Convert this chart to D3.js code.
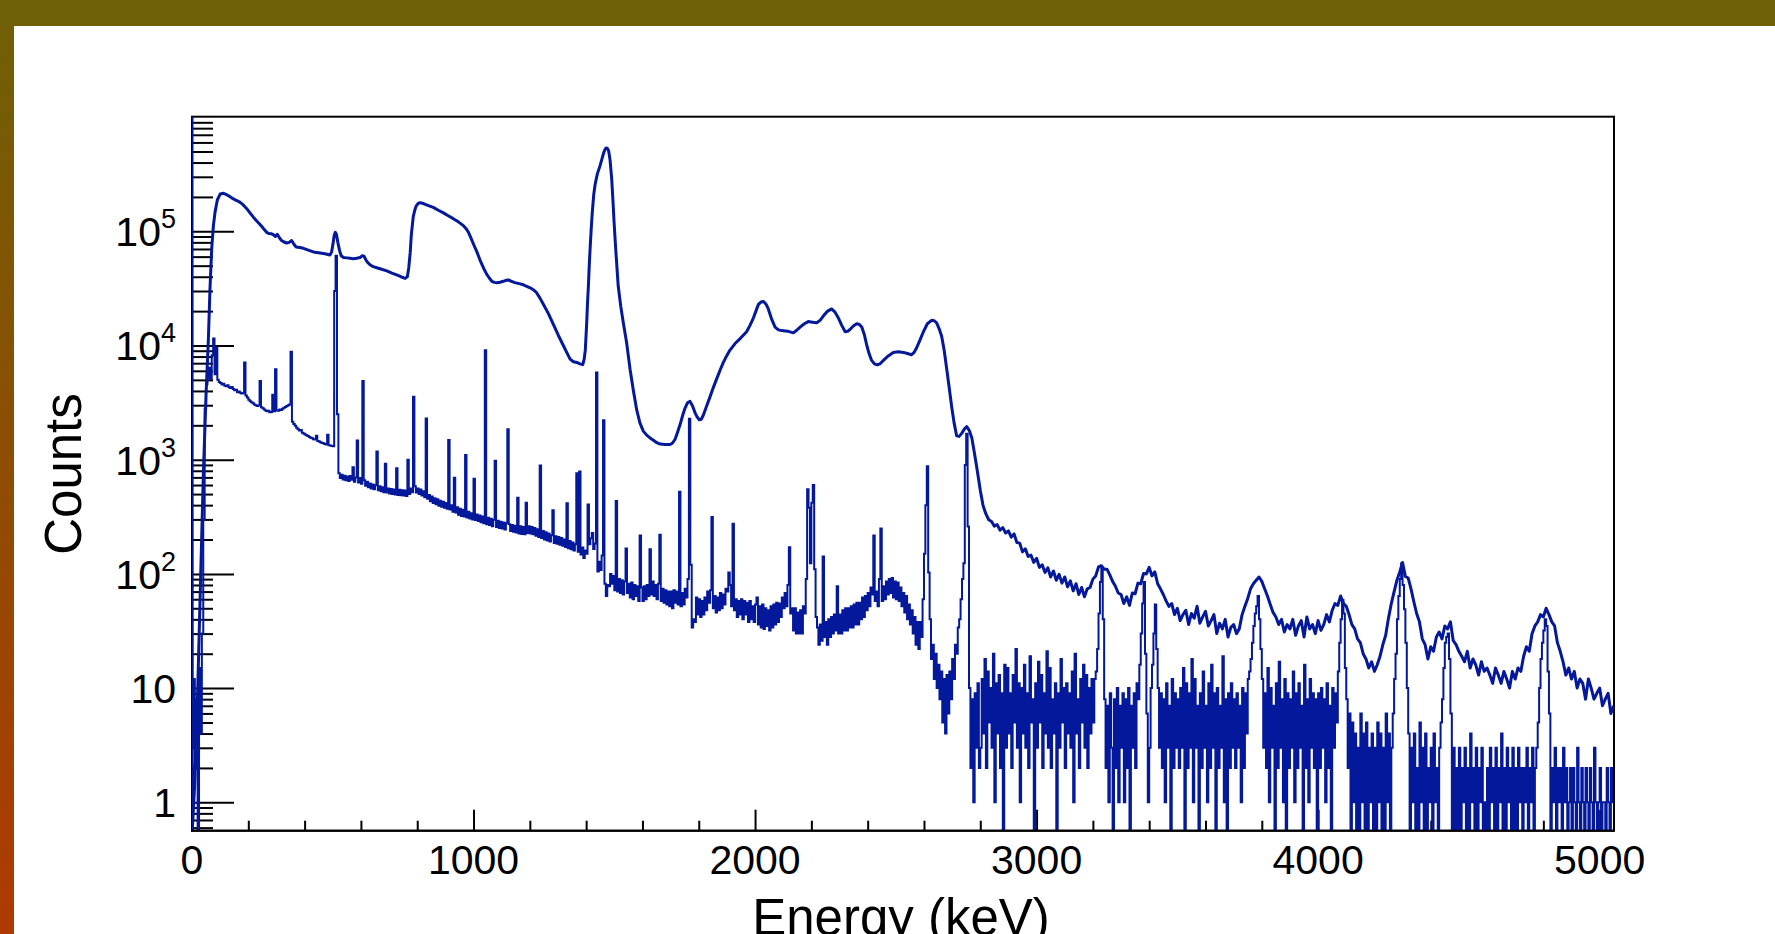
<!DOCTYPE html>
<meta charset="utf-8">
<style>
body {
  margin: 0;
  background: #fff;
}
svg text {
  font-family: "Liberation Sans", Arial, Helvetica, sans-serif;
  fill: #000;
}
</style>
<body>
<script src="https://d3js.org/d3.v7.min.js"></script>
<script>

// ---- data ----

// broad-peak detector spectrum, smooth part (keV, counts)
var upperEnergy = [0, 1, 10, 20, 30, 40, 50, 58, 64, 70, 76, 82, 90, 100, 112, 123, 135, 147, 159, 171, 180, 188, 197, 206, 218, 230, 240, 248, 256, 265, 274, 283, 290, 296, 303, 309, 316, 325, 336, 345, 354, 362, 370, 383, 396, 413, 431, 449, 467, 480, 490, 496, 501, 505, 509, 513, 518, 524, 530, 538, 550, 561, 573, 585, 597, 605, 611, 618, 625, 632, 644, 656, 674, 692, 710, 727, 742, 757, 765, 770, 775, 779, 783, 786, 791, 796, 802, 808, 815, 822, 840, 857, 875, 893, 910, 928, 946, 964, 973, 982, 991, 1000, 1012, 1023, 1035, 1047, 1056, 1065, 1074, 1082, 1094, 1106, 1115, 1124, 1135, 1147, 1162, 1177, 1189, 1201, 1212, 1224, 1236, 1248, 1266, 1284, 1301, 1319, 1331, 1343, 1355, 1367, 1378, 1388, 1393, 1397, 1402, 1405, 1408, 1411, 1414, 1418, 1422, 1427, 1432, 1440, 1449, 1455, 1461, 1466, 1471, 1476, 1480, 1485, 1491, 1495, 1499, 1505, 1514, 1523, 1532, 1544, 1556, 1568, 1580, 1591, 1603, 1615, 1627, 1639, 1651, 1663, 1680, 1698, 1707, 1716, 1725, 1734, 1743, 1751, 1760, 1769, 1778, 1787, 1795, 1802, 1809, 1816, 1828, 1840, 1852, 1864, 1876, 1887, 1899, 1911, 1929, 1947, 1958, 1970, 1982, 1994, 2003, 2012, 2021, 2030, 2039, 2047, 2059, 2071, 2083, 2095, 2107, 2118, 2136, 2148, 2160, 2175, 2189, 2204, 2219, 2231, 2243, 2258, 2272, 2284, 2296, 2308, 2320, 2329, 2337, 2349, 2361, 2370, 2379, 2388, 2397, 2405, 2414, 2424, 2434, 2445, 2456, 2473, 2491, 2509, 2527, 2541, 2556, 2565, 2574, 2586, 2598, 2612, 2627, 2636, 2645, 2654, 2663, 2672, 2681, 2690, 2698, 2707, 2716, 2725, 2734, 2743, 2752, 2761, 2770, 2779, 2787, 2795];
var upperCounts = [1200000, 0.4, 1.5, 9, 80, 700, 3800, 11000, 32000, 70000, 112000, 148000, 188000, 212000, 215000, 209000, 201000, 192000, 186000, 179000, 172000, 164000, 155000, 145000, 133000, 123000, 116000, 110000, 104000, 98000, 95500, 95000, 93000, 90000, 94000, 89000, 84000, 81000, 79000, 80000, 83000, 77000, 73000, 72000, 71000, 68500, 66000, 65000, 64000, 63000, 62000, 66000, 78000, 92000, 98000, 94000, 80000, 68000, 61000, 59000, 58500, 58000, 57500, 58000, 59000, 61000, 60500, 56000, 53000, 51000, 49000, 48000, 46500, 45000, 43000, 41500, 40000, 38700, 40000, 48000, 65000, 93000, 115000, 135000, 152000, 166000, 174000, 178000, 177000, 175000, 168000, 162000, 153000, 145000, 137000, 129000, 121000, 112000, 106000, 98000, 87000, 77000, 66000, 56000, 48000, 42000, 39000, 36500, 35700, 35500, 35800, 36500, 37200, 37500, 36500, 35500, 34800, 34000, 33000, 32000, 30800, 29000, 26000, 23000, 19000, 15200, 12300, 10000, 8700, 7600, 7200, 7100, 6900, 6800, 7600, 9100, 15800, 24000, 33000, 50000, 70000, 105000, 148000, 210000, 258000, 320000, 372000, 420000, 475000, 515000, 537000, 530000, 505000, 420000, 283000, 190000, 123000, 70000, 33000, 22000, 15800, 10500, 6200, 4000, 2700, 2100, 1780, 1640, 1550, 1480, 1410, 1370, 1360, 1360, 1400, 1510, 1750, 2040, 2450, 2820, 3150, 3240, 2950, 2570, 2350, 2240, 2260, 2450, 2950, 3550, 4300, 5130, 6100, 7080, 8100, 9120, 10400, 11500, 12300, 13200, 15000, 17400, 20000, 22900, 24000, 24300, 23000, 20900, 17000, 14500, 13700, 13500, 13400, 13300, 12900, 13600, 14500, 15500, 16200, 16000, 15800, 16600, 18200, 20000, 20900, 19600, 17400, 15000, 13200, 13300, 13800, 14800, 15500, 15300, 14500, 12500, 10000, 8500, 7400, 6900, 6760, 6950, 7400, 8100, 8700, 8800, 8700, 8500, 8300, 8700, 9550, 11200, 13200, 15500, 16600, 16500, 15800, 14000, 12000, 9000, 6170, 4200, 2950, 2100, 1620, 1600, 1700, 1850, 1950, 1800, 1550, 1150, 870, 650];

// same spectrum above 2800 keV, one value per 10 keV
var upperTailStart = 2800, upperTailStep = 10;
var upperTail = [
  540, 395, 335, 298, 288, 262, 270, 242, 254, 228,
  238, 210, 224, 188, 186, 156, 166, 142, 146, 126,
  137, 114, 120, 103, 113, 94, 106, 88, 99, 83,
  94, 77, 87, 71, 82, 66, 76, 63, 74, 76,
  90, 96, 115, 118, 110, 110, 98, 86, 78, 68,
  66, 55, 63, 53, 68, 67, 83, 82, 101, 100,
  114, 96, 104, 82, 74, 66, 58, 52, 55, 44,
  50, 39, 44, 48, 36, 45, 41, 52, 37, 42,
  47, 35, 39, 44, 30, 37, 33, 40, 28, 34,
  36, 30, 33, 44, 52, 61, 74, 82, 88, 94,
  86, 74, 64, 54, 46, 42, 36, 40, 31, 36,
  33, 40, 29, 35, 39, 28, 42, 33, 36, 30,
  39, 32, 36, 44, 38, 48, 55, 53, 64, 55,
  52, 44, 36, 33, 27, 25, 20, 18, 15, 17,
  14, 16, 19, 24, 29, 41, 55, 70, 88, 104,
  126, 95, 92, 74, 57, 45, 38, 27, 24, 18,
  23, 21, 28, 31, 27, 35, 33, 38, 26, 24,
  21, 19, 17, 21, 15, 18, 16, 13, 17, 14,
  15, 13, 11, 15, 13, 11, 14, 12, 10, 14,
  12, 15, 14, 19, 23, 21, 30, 35, 38, 44,
  42, 50, 44, 38, 35, 25, 21, 17, 13, 15,
  12, 14, 10, 12, 11, 8, 12, 10, 8, 9,
  10, 7, 8, 9, 6, 7
];

// high-resolution detector spectrum, 5 keV bins from 0 keV
var lowerBinWidth = 5;
var lowerCounts = [
  3, 12, 2, 8, 0, 15, 4, 30, 300, 2800, 4600, 5200, 6400, 5100, 8200, 11500, 5600, 9500, 5000, 4800,
  4700, 4550, 4620, 4450, 4400, 4480, 4300, 4250, 4320, 4150, 4050, 4100, 3900, 3950, 3850, 3800, 3820, 7100, 3650, 3500,
  3350, 3250, 3180, 3120, 3050, 3000, 2950, 2980, 4900, 2880, 2820, 2750, 2700, 2650, 2680, 2600, 2620, 3700, 2650, 6200,
  2700, 2680, 2750, 2720, 2800, 2850, 2900, 2950, 3000, 3050, 8800, 2150, 2050, 1980, 1900, 1850, 1800, 1820, 1720, 1700,
  1660, 1640, 1610, 1580, 1560, 1540, 1510, 1500, 1620, 1460, 1440, 1420, 1400, 1390, 1370, 1360, 1650, 1340, 1330, 1320,
  1310, 30000, 61000, 2500, 760, 690, 740, 672, 725, 660, 712, 650, 720, 668, 860, 640, 700, 1470, 630, 690,
  615, 4900, 660, 590, 640, 575, 620, 560, 605, 550, 598, 1180, 540, 585, 528, 575, 520, 920, 515, 560,
  505, 555, 500, 548, 495, 840, 490, 545, 488, 540, 485, 538, 482, 1000, 500, 560, 520, 3550, 585, 515,
  560, 500, 548, 485, 528, 470, 2290, 455, 490, 432, 475, 418, 460, 408, 450, 396, 438, 388, 428, 380,
  418, 372, 1490, 366, 400, 350, 695, 345, 384, 330, 372, 322, 365, 318, 1100, 312, 350, 305, 340, 300,
  680, 296, 332, 290, 325, 283, 318, 278, 9100, 272, 310, 268, 304, 262, 298, 980, 258, 292, 252, 286,
  250, 282, 245, 278, 1850, 272, 238, 268, 234, 264, 230, 465, 226, 262, 224, 258, 222, 420, 228, 262,
  226, 258, 222, 252, 216, 246, 210, 890, 206, 238, 200, 232, 196, 226, 192, 218, 360, 186, 214, 184,
  210, 180, 206, 176, 200, 172, 415, 168, 194, 164, 188, 160, 182, 760, 156, 790, 148, 170, 138, 160,
  150, 405, 182, 205, 228, 165, 185, 5800, 105, 128, 108, 145, 2220, 82, 64, 80, 78, 100, 82, 96,
  72, 435, 70, 90, 68, 88, 66, 86, 167, 68, 82, 62, 84, 60, 80, 64, 78, 58, 217, 76,
  58, 78, 60, 80, 64, 164, 66, 86, 64, 80, 60, 82, 220, 58, 74, 56, 72, 54, 70, 52,
  70, 50, 72, 56, 70, 54, 525, 52, 68, 54, 74, 62, 90, 2280, 120, 34, 40, 38, 62, 44,
  60, 42, 58, 44, 62, 48, 70, 56, 72, 315, 50, 64, 46, 62, 48, 68, 50, 66, 54, 74,
  70, 103, 80, 52, 275, 48, 60, 42, 58, 44, 60, 40, 58, 44, 56, 38, 58, 40, 52, 38,
  54, 62, 36, 52, 34, 54, 33, 50, 35, 48, 32, 52, 34, 54, 36, 56, 38, 55, 42, 62,
  50, 68, 52, 80, 171, 45, 50, 32, 50, 30, 46, 30, 48, 30, 52, 45, 90, 550, 380, 124,
  420, 600, 110, 42, 34, 24, 36, 26, 142, 28, 38, 24, 40, 28, 42, 30, 44, 32, 78, 30,
  44, 30, 48, 32, 50, 32, 50, 34, 52, 34, 54, 36, 56, 36, 56, 40, 62, 42, 64, 48,
  68, 52, 76, 66, 217, 58, 70, 52, 90, 250, 58, 78, 60, 86, 66, 90, 68, 92, 62, 86,
  60, 84, 58, 76, 52, 68, 46, 64, 40, 54, 36, 48, 30, 42, 24, 38, 22, 38, 28, 60,
  150, 400, 875, 103, 40, 18, 24, 12, 20, 10, 16, 8, 14, 5, 12, 4, 13, 6, 14, 8,
  18, 12, 24, 20, 34, 40, 60, 90, 124, 900, 1690, 260, 10, 2, 8, 1, 9, 3, 11, 2,
  3, 12, 4, 18, 2, 14, 5, 10, 3, 20, 1, 11, 4, 13, 2, 9, 0, 16, 3, 15,
  4, 9, 2, 13, 5, 22, 3, 11, 1, 10, 4, 16, 3, 9, 2, 19, 5, 8, 0, 11,
  3, 17, 5, 13, 2, 9, 4, 21, 3, 15, 2, 8, 4, 11, 0, 9, 3, 18, 5, 10,
  2, 11, 4, 9, 3, 14, 1, 20, 4, 8, 2, 12, 5, 16, 3, 13, 2, 10, 4, 12,
  5, 12, 14, 22, 45, 85, 112, 40, 8, 2, 7, 1, 9, 3, 0, 8, 2, 10, 1, 7,
  3, 9, 1, 8, 2, 10, 0, 7, 3, 9, 2, 11, 8, 16, 30, 55, 85, 20, 6, 1,
  3, 10, 16, 30, 54, 22, 10, 3, 9, 2, 8, 1, 11, 3, 7, 0, 12, 2, 9, 3,
  8, 2, 10, 3, 15, 0, 11, 2, 9, 3, 18, 1, 12, 3, 7, 0, 9, 2, 14, 3,
  7, 1, 11, 2, 16, 3, 9, 0, 10, 2, 7, 3, 19, 1, 8, 0, 9, 2, 11, 3,
  8, 2, 9, 3, 7, 1, 10, 2, 9, 4, 12, 14, 18, 25, 35, 45, 52, 64, 40, 22,
  12, 3, 9, 2, 15, 1, 10, 3, 7, 0, 11, 2, 17, 3, 8, 1, 12, 0, 9, 2,
  8, 3, 14, 1, 9, 2, 11, 3, 7, 0, 16, 2, 8, 1, 12, 3, 9, 2, 8, 0,
  9, 2, 10, 3, 8, 1, 11, 2, 7, 0, 10, 3, 9, 5, 14, 25, 40, 59, 45, 15,
  8, 2, 6, 0, 5, 1, 4, 0, 3, 0, 6, 1, 4, 0, 5, 0, 3, 1, 4, 0,
  3, 0, 5, 1, 4, 0, 3, 0, 6, 1, 4, 0, 3, 6, 12, 20, 40, 64, 90, 124,
  80, 49, 25, 10, 4, 0, 3, 1, 4, 0, 2, 0, 5, 1, 3, 0, 4, 0, 2, 1,
  3, 0, 4, 1, 2, 0, 3, 5, 8, 15, 25, 28, 30, 18, 6, 0, 3, 0, 2, 0,
  3, 0, 2, 1, 3, 0, 2, 0, 4, 1, 2, 0, 3, 0, 2, 1, 3, 0, 1, 0,
  2, 0, 3, 1, 2, 0, 3, 0, 2, 1, 4, 0, 2, 0, 3, 1, 2, 0, 3, 0,
  2, 0, 3, 1, 2, 0, 2, 1, 3, 0, 2, 1, 3, 0, 2, 3, 5, 10, 18, 25,
  32, 40, 35, 14, 6, 0, 2, 1, 3, 0, 2, 1, 2, 0, 3, 1, 2, 0, 1, 2,
  0, 2, 1, 0, 3, 1, 0, 2, 1, 0, 2, 1, 0, 2, 1, 0, 3, 1, 0, 1,
  2, 0, 1, 1, 0, 2, 1, 0, 2, 1
];

// axis ticks and labels
var xMajorTicks = [0, 1000, 2000, 3000, 4000, 5000];
var xMinorStep = 200;
var yDecades = [0, 1, 2, 3, 4, 5];   // labels 1, 10, 10^2 ... 10^5
var xTitle = "Energy (keV)", yTitle = "Counts";

// ---- layout ----
var W = 1775, H = 934;
var plotLeft = 192, plotRight = 1614, plotTop = 116.7, plotBottom = 830.7;
var lineColor = "#03189a";

var x = d3.scaleLinear().domain([0, 5051]).range([plotLeft, plotRight]);
var y = d3.scaleLog().domain([0.564, 1.008e6]).range([plotBottom, plotTop]).clamp(true);

var svg = d3.select("body").append("svg")
    .attr("width", W)
    .attr("height", H);

// slide decoration: olive header bar, side strip fading to orange
var defs = svg.append("defs");
var grad = defs.append("linearGradient")
    .attr("id", "side")
    .attr("x1", 0).attr("y1", 0).attr("x2", 0).attr("y2", 1);
grad.append("stop").attr("offset", 0).attr("stop-color", "#6e6006");
grad.append("stop").attr("offset", 1).attr("stop-color", "#ae3a00");

svg.append("rect").attr("width", W).attr("height", H).attr("fill", "#fff");
svg.append("rect").attr("width", 14).attr("height", H).attr("fill", "url(#side)");
svg.append("rect").attr("width", W).attr("height", 26).attr("fill", "#6e6006");

defs.append("clipPath").attr("id", "plot")
  .append("rect")
    .attr("x", plotLeft).attr("y", plotTop)
    .attr("width", plotRight - plotLeft).attr("height", plotBottom - plotTop);

// frame
svg.append("rect")
    .attr("x", plotLeft).attr("y", plotTop)
    .attr("width", plotRight - plotLeft).attr("height", plotBottom - plotTop)
    .attr("fill", "none")
    .attr("stroke", "#000")
    .attr("stroke-width", 2);

// ticks (drawn inside the frame, ROOT style)
var xMinor = d3.range(0, 5051, xMinorStep).filter(function(v) { return v % 1000 !== 0; });
svg.append("g")
    .attr("transform", "translate(0," + plotBottom + ")")
    .call(d3.axisBottom(x).tickValues(xMinor).tickSizeInner(-10).tickSizeOuter(0).tickFormat(""));
svg.append("g")
    .attr("transform", "translate(0," + plotBottom + ")")
    .call(d3.axisBottom(x).tickValues(xMajorTicks).tickSizeInner(-21).tickSizeOuter(0).tickFormat(""));

var yMinor = [];
for (var k = -1; k <= 5; k++) {
  for (var m = 2; m <= 9; m++) {
    var v = m * Math.pow(10, k);
    if (v > y.domain()[0] && v < y.domain()[1]) yMinor.push(v);
  }
}
svg.append("g")
    .attr("transform", "translate(" + plotLeft + ",0)")
    .call(d3.axisLeft(y).tickValues(yMinor).tickSizeInner(-21).tickSizeOuter(0).tickFormat(""));
svg.append("g")
    .attr("transform", "translate(" + plotLeft + ",0)")
    .call(d3.axisLeft(y).tickValues(yDecades.map(function(d) { return Math.pow(10, d); }))
      .tickSizeInner(-42).tickSizeOuter(0).tickFormat(""));

svg.selectAll(".tick line").attr("stroke", "#000").attr("stroke-width", 2);
svg.selectAll(".domain").remove();

// spectra
var plot = svg.append("g").attr("clip-path", "url(#plot)");

var lowerPts = lowerCounts.map(function(c, i) { return [i * lowerBinWidth, c]; });
lowerPts.push([lowerCounts.length * lowerBinWidth, lowerCounts[lowerCounts.length - 1]]);

var step = d3.line()
    .x(function(d) { return x(d[0]); })
    .y(function(d) { return y(Math.max(d[1], 0.1)); })
    .curve(d3.curveStepAfter);

plot.append("path")
    .datum(lowerPts)
    .attr("d", step)
    .attr("fill", "none")
    .attr("stroke", lineColor)
    .attr("stroke-width", 2)
    .attr("stroke-linejoin", "miter");

var upperPts = upperEnergy.map(function(e, i) { return [e, upperCounts[i]]; })
    .concat(upperTail.map(function(c, i) { return [upperTailStart + i * upperTailStep, c]; }));

var line = d3.line()
    .x(function(d) { return x(d[0]); })
    .y(function(d) { return y(Math.max(d[1], 0.1)); });

plot.append("path")
    .datum(upperPts)
    .attr("d", line)
    .attr("fill", "none")
    .attr("stroke", lineColor)
    .attr("stroke-width", 3)
    .attr("stroke-linejoin", "round");

// bottom axis line on top of the spectra
svg.append("line")
    .attr("x1", plotLeft - 1).attr("x2", plotRight + 1)
    .attr("y1", plotBottom).attr("y2", plotBottom)
    .attr("stroke", "#000")
    .attr("stroke-width", 2);

// tick labels
svg.append("g").selectAll("text")
  .data(xMajorTicks)
  .enter().append("text")
    .attr("x", function(d) { return x(d); })
    .attr("y", 874)
    .attr("text-anchor", "middle")
    .style("font-size", "41px")
    .text(function(d) { return d; });

var yLab = svg.append("g").selectAll("text")
  .data(yDecades)
  .enter().append("text")
    .attr("x", 176)
    .attr("y", function(d) { return y(Math.pow(10, d)) + 15; })
    .attr("text-anchor", "end")
    .style("font-size", "41px");

yLab.each(function(d) {
  var t = d3.select(this);
  if (d < 2) {
    t.text(Math.pow(10, d));
  } else {
    t.append("tspan").text("10");
    t.append("tspan").attr("dy", -18).style("font-size", "27px").text(d);
  }
});

// axis titles
svg.append("text")
    .attr("x", 901)
    .attr("y", 935)
    .attr("text-anchor", "middle")
    .style("font-size", "51px")
    .text(xTitle);

svg.append("text")
    .attr("transform", "translate(81,474) rotate(-90)")
    .attr("text-anchor", "middle")
    .style("font-size", "51px")
    .text(yTitle);

</script>
